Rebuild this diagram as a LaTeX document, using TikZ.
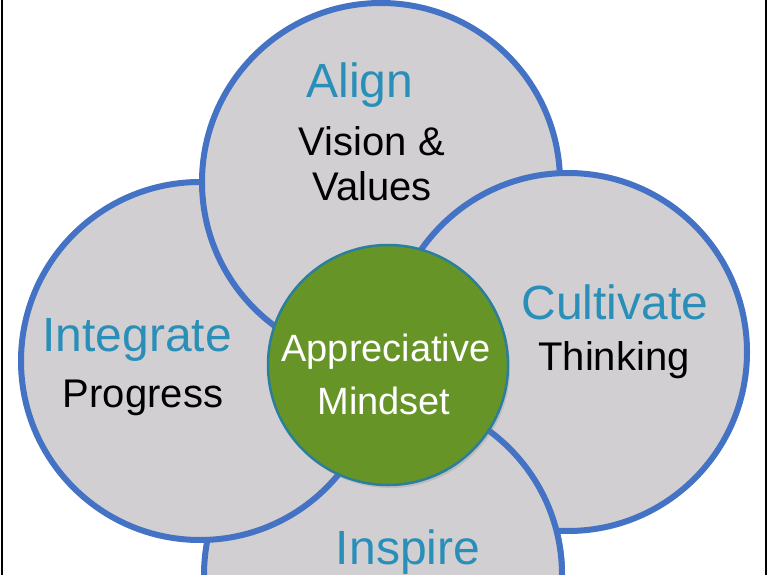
\documentclass[tikz,border=0pt]{standalone}
\usepackage{fontspec}
\setmainfont{Liberation Sans}
\usetikzlibrary{shadows}
\definecolor{petalgray}{HTML}{D1CFD2}
\definecolor{petalblue}{HTML}{4472C4}
\definecolor{headteal}{HTML}{2A8FB8}
\definecolor{coregreen}{HTML}{679427}
\definecolor{coreedge}{HTML}{2B7E9C}

\begin{document}
\begin{tikzpicture}[x=1pt, y=-1pt]

% Set the page and its side rules
\useasboundingbox (0,0) rectangle (768,575);
\draw[line width=1.5pt] (2,0) -- (2,575);
\draw[line width=1.5pt] (766,0) -- (766,575);

% Define styles for petals and labels
\tikzstyle{petal} = [circle, minimum size=358pt, inner sep=0pt, fill=petalgray, draw=petalblue, line width=6pt]
\tikzstyle{head} = [anchor=base, inner sep=0pt, text=headteal, font=\fontsize{48}{52}\selectfont]
\tikzstyle{body} = [anchor=base, inner sep=0pt, text=black, font=\fontsize{40}{44}\selectfont]
\tikzstyle{core} = [circle, minimum size=240pt, inner sep=0pt, fill=coregreen, draw=coreedge, line width=2.5pt, drop shadow={opacity=0.25, shadow xshift=2pt, shadow yshift=-3pt}]

% Petals, each one over the one before
\node[petal] (inspire) at (383,575) {};
\node[petal] (integrate) at (200,361) {};
\node[petal] (align) at (381,182) {};
\node[petal] (cultivate) at (568,352) {};
\begin{scope}
	\clip (388,380) rectangle (768,575);
	\node[petal] (inspireover) at (383,575) {};
\end{scope}

% Centre
\node[core] (mindset) at (388,365) {};

% Labels
\node[head] (alignhead) at (360,98) {Align};
\node[body] (alignbody1) at (372,156) {Vision \&};
\node[body] (alignbody2) at (372,200) {Values};
\node[head] (cultivatehead) at (615,319) {Cultivate};
\node[body] (cultivatebody) at (614,370) {Thinking};
\node[head] (integratehead) at (137,351) {Integrate};
\node[body] (integratebody) at (143,407) {Progress};
\node[head] (inspirehead) at (408,564) {Inspire};
\node[body, text=white, font=\fontsize{38}{42}\selectfont] (mindsettop) at (386,361) {Appreciative};
\node[body, text=white, font=\fontsize{38}{42}\selectfont] (mindsetbot) at (384,414) {Mindset};

\end{tikzpicture}
\end{document}
